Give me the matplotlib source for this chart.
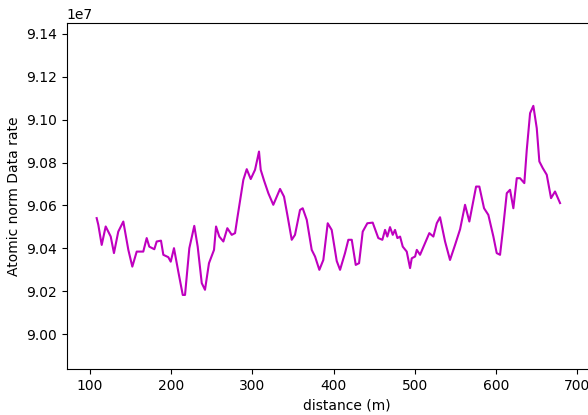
import matplotlib
matplotlib.use("Agg")
import matplotlib.pyplot as plt

distance = [108.2, 110.2, 114.4, 119.3, 122.5, 125.5, 129.5, 134.8, 141.0, 147.2,
            152.1, 157.5, 165.6, 169.8, 173.0, 179.2, 182.1, 187.4, 190.3, 196.4,
            199.4, 203.4, 208.7, 214.2, 217.0, 222.3, 228.4, 232.6, 237.6, 241.6,
            246.5, 252.7, 255.2, 259.2, 264.2, 269.1, 274.5, 278.6, 281.4, 288.8,
            293.0, 297.9, 303.2, 308.1, 310.2, 314.3, 319.6, 325.7, 334.0, 338.9,
            343.0, 348.4, 352.4, 358.6, 361.9, 366.9, 373.0, 377.1, 382.4, 387.3,
            392.7, 397.6, 403.8, 407.9, 414.0, 418.1, 422.3, 427.2, 431.3, 435.8,
            441.5, 448.1, 455.0, 460.0, 463.3, 466.1, 469.4, 472.8, 475.6, 478.5,
            481.8, 485.1, 490.0, 494.1, 496.2, 500.3, 502.4, 506.4, 517.8, 522.8,
            527.0, 531.0, 537.2, 543.3, 549.5, 555.7, 561.8, 567.1, 575.4, 579.4,
            585.2, 590.5, 596.7, 600.8, 604.9, 608.2, 613.2, 617.2, 621.3, 625.5,
            629.5, 634.8, 637.8, 641.9, 645.9, 650.1, 653.3, 657.5, 662.4, 667.7,
            672.6, 678.8]

rate_1e7 = [9.0541, 9.0510, 9.0416, 9.0502, 9.0478, 9.0455, 9.0378, 9.0478, 9.0525, 9.0393,
            9.0315, 9.0385, 9.0385, 9.0448, 9.0408, 9.0396, 9.0432, 9.0436, 9.0370, 9.0359,
            9.0338, 9.0401, 9.0292, 9.0183, 9.0183, 9.0401, 9.0505, 9.0408, 9.0238, 9.0207,
            9.0331, 9.0393, 9.0502, 9.0455, 9.0432, 9.0494, 9.0463, 9.0471, 9.0541, 9.0719,
            9.0769, 9.0723, 9.0766, 9.0851, 9.0766, 9.0716, 9.0657, 9.0603, 9.0677, 9.0641,
            9.0556, 9.0440, 9.0463, 9.0579, 9.0587, 9.0533, 9.0393, 9.0362, 9.0300, 9.0346,
            9.0517, 9.0486, 9.0341, 9.0300, 9.0378, 9.0440, 9.0440, 9.0323, 9.0331, 9.0478,
            9.0517, 9.0520, 9.0448, 9.0440, 9.0486, 9.0455, 9.0499, 9.0463, 9.0486, 9.0448,
            9.0455, 9.0408, 9.0385, 9.0308, 9.0354, 9.0362, 9.0393, 9.0370, 9.0471, 9.0455,
            9.0517, 9.0545, 9.0432, 9.0346, 9.0416, 9.0489, 9.0603, 9.0525, 9.0688, 9.0688,
            9.0587, 9.0556, 9.0455, 9.0378, 9.0370, 9.0478, 9.0657, 9.0673, 9.0587, 9.0727,
            9.0727, 9.0704, 9.0859, 9.1030, 9.1064, 9.0960, 9.0805, 9.0774, 9.0743, 9.0634,
            9.0665, 9.0611]

rate = [v * 1e7 for v in rate_1e7]

fig = plt.figure(figsize=(5.88, 4.15), dpi=100)
ax = fig.add_axes([66.7 / 588, 46 / 415, (626 - 66.7) / 588, 346 / 415])
ax.plot(distance, rate, color='m', linewidth=1.5)
ax.set_xlim(71.3, 760)
ax.set_ylim(8.9838e7, 9.1450e7)
ax.set_xticks([100, 200, 300, 400, 500, 600, 700])
ax.set_yticks([v * 1e7 for v in [9.00, 9.02, 9.04, 9.06, 9.08, 9.10, 9.12, 9.14]])
ax.set_xlabel("distance (m)")
ax.set_ylabel("Atomic norm Data rate")
fig.savefig("out.png", dpi=100)
